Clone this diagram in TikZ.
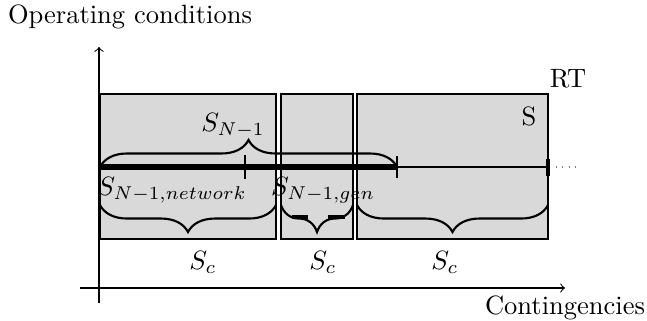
\documentclass[tikz,border=0pt]{standalone}
\usetikzlibrary{decorations.pathreplacing,fit}
\begin{document}
\begin{tikzpicture}[x=0.3774pt,y=-0.3774pt,
  box/.style={draw,thick,fill=gray!30,inner sep=0pt},
  brc/.style={decorate,decoration={brace,amplitude=10.2pt},thick},
  lbl/.style={inner sep=0pt}]
\useasboundingbox (0,0) rectangle (647,320);
% axes
\coordinate (ybot) at (99,303);
\coordinate (ytop) at (99,47);
\coordinate (xl) at (80,288);
\coordinate (xr) at (565,288);
\draw[->] (ybot) -- (ytop);
\draw[->] (xl) -- (xr);
% boxes
\coordinate (b1a) at (100,94);  \coordinate (b1b) at (276,239);
\coordinate (b2a) at (281,94);  \coordinate (b2b) at (353,239);
\coordinate (b3a) at (357,94);  \coordinate (b3b) at (548,239);
\node[box,fit=(b1a)(b1b)] (box1) {};
\node[box,fit=(b2a)(b2b)] (box2) {};
\node[box,fit=(b3a)(b3b)] (box3) {};
% horizontal lines
\coordinate (l0) at (100,167);
\coordinate (l1) at (397,167);
\coordinate (l2) at (548,167);
\draw[line width=2.5pt] (l0) -- (l1);
\draw (l1) -- (l2);
\draw[thick] (397,156) -- (397,178);
\draw[thick] (245,155) -- (245,179);
\draw[line width=1.4pt] (548,159) -- (548,176);
\draw[dotted,gray] (556,167) -- (576,167);
% braces
\draw[brc] (l0) -- (l1);
\draw[brc] (276,205) -- (100,205);
\draw[brc] (353,205) -- (281,205);
\draw[brc] (548,205) -- (357,205);
\draw[line width=1.3pt] (292,217) -- (308,217);
\draw[line width=1.3pt] (328,217) -- (345,217);
% labels
\node (oc) at (130,17) {Operating conditions};
\node (ct) at (565,308) {Contingencies};
\node (rt) at (568,79) {RT};
\node (s) at (529,116) {S};
\node (sn) at (233,126) {$S_{N-1}$};
\node (snn) at (172,190) {$S_{N-1,network}$};
\node (sng) at (323,190) {$S_{N-1,gen}$};
\node (sc1) at (203,262) {$S_c$};
\node (sc2) at (323,262) {$S_c$};
\node (sc3) at (445,262) {$S_c$};
\end{tikzpicture}
\end{document}
